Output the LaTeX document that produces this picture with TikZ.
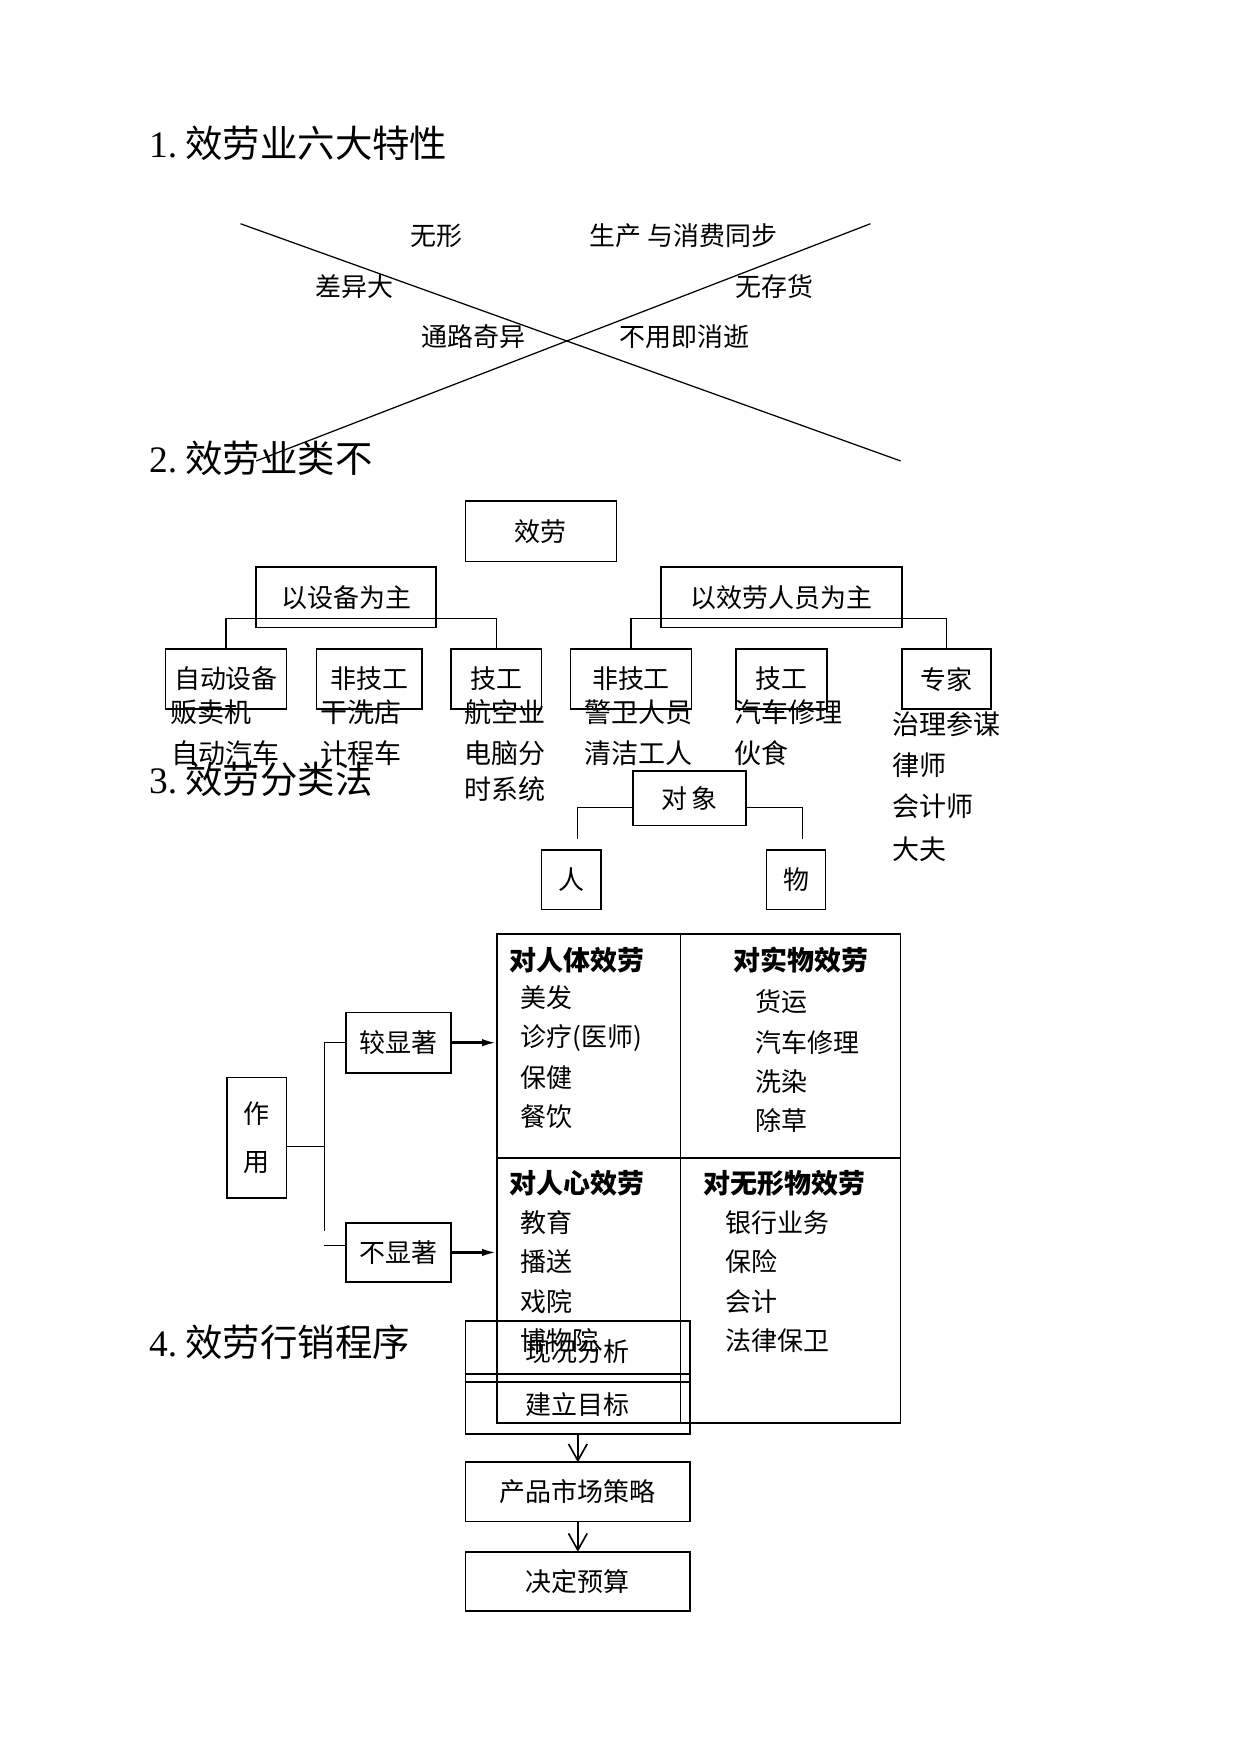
\documentclass[tikz,border=0pt]{standalone}
\usepackage{fontspec}
\setmainfont{Liberation Serif}
\newfontfamily\cjk{Noto Sans CJK SC}
\usetikzlibrary{arrows.meta}
\newcommand\pxu{0.5384pt}

\tikzset{
  heading/.style={anchor=west, inner sep=0pt, font=\fontsize{18}{20}\selectfont},
  lbl/.style={inner sep=0pt, font=\cjk\fontsize{12.5}{15}\selectfont},
  item/.style={anchor=west, inner sep=0pt, font=\cjk\fontsize{12.5}{15}\selectfont},
  listitem/.style={anchor=west, inner sep=0pt, font=\cjk\fontsize{13}{15}\selectfont},
  cellhead/.style={anchor=west, inner sep=0pt, font=\cjk\bfseries\fontsize{13}{15}\selectfont},
  box/.style 2 args={draw, line width=0.8pt, inner sep=0pt, outer sep=0pt,
    minimum width=#1*\pxu, minimum height=#2*\pxu, font=\cjk\fontsize{12.5}{15}\selectfont},
  link/.style={line width=0.6pt},
  pointer/.style={line width=1.2pt, -{Latex[length=7pt,width=3.5pt]}},
  flow/.style={line width=0.8pt, -{Straight Barb[length=8pt,width=9pt]}},
}

\begin{document}
\begin{tikzpicture}[x=\pxu, y=-\pxu]
  \useasboundingbox (0,0) rectangle (1109.5,1567.8);

  % 1. six features
  \node[heading] (title1) at (133,128) {1.\hspace{4pt}{\cjk 效劳业六大特性}};
  \draw[link] (215,200) -- (805,412);
  \draw[link] (778,200) -- (229,412);
  \node[lbl] (feat1) at (390,211) {无形};
  \node[lbl] (feat2) at (611,211) {生产\ 与消费同步};
  \node[lbl] (feat3) at (317,256) {差异大};
  \node[lbl] (feat4) at (692,256) {无存货};
  \node[lbl] (feat5) at (423,301) {通路奇异};
  \node[lbl] (feat6) at (612,301) {不用即消逝};

  % 2. kinds of service
  \node[heading] (title2) at (133,410) {2.\hspace{4pt}{\cjk 效劳业类不}};
  \node[box={135}{54}] (service) at (483.5,475) {效劳};
  \node[box={161}{54}] (equip) at (309.5,534) {以设备为主};
  \node[box={215}{54}] (staff) at (698.5,534) {以效劳人员为主};

  \node[box={108}{54}] (auto) at (202,607) {自动设备};
  \node[box={94}{54}] (unskilledA) at (330,607) {非技工};
  \node[box={81}{54}] (skilledA) at (443.5,607) {技工};
  \node[box={108}{54}] (unskilledB) at (564,607) {非技工};
  \node[box={81}{54}] (skilledB) at (698.5,607) {技工};
  \node[box={80}{54}] (expert) at (846,607) {专家};

  \draw[link] (auto.north) -- ++(0,-27) -| (skilledA.north);
  \draw[link] (unskilledB.north) -- ++(0,-27) -| (expert.north);

  \node[listitem] (vend) at (152,637) {贩卖机};
  \node[listitem] (autocar) at (153,673) {自动汽车};
  \node[listitem] (laundry) at (286,637) {干洗店};
  \node[listitem] (taxi) at (286,673) {计程车};
  \node[listitem] (airline) at (415,637) {航空业};
  \node[listitem] (computer) at (415,673) {电脑分};
  \node[listitem] (timeshare) at (415,705) {时系统};
  \node[listitem] (guard) at (522,637) {警卫人员};
  \node[listitem] (cleaner) at (522,673) {清洁工人};
  \node[listitem] (repair) at (656,637) {汽车修理};
  \node[listitem] (catering) at (656,673) {伙食};
  \node[listitem] (advisor) at (797,647) {治理参谋};
  \node[listitem] (lawyer) at (797,684) {律师};
  \node[listitem] (accountant) at (797,721) {会计师};
  \node[listitem] (doctor) at (797,759) {大夫};

  % 3. classification
  \node[heading] (title3) at (133,697) {3.\hspace{4pt}{\cjk 效劳分类法}};
  \node[box={101}{49}] (object) at (616.5,713.5) {对\,象};
  \node[box={53}{53}] (person) at (510.5,786.5) {人};
  \node[box={53}{53}] (thing) at (711.5,786.5) {物};
  \coordinate (objL) at (516.5,750);
  \coordinate (objR) at (717.5,750);
  \draw[link] ([yshift=-8.5*\pxu]object.west) -| (objL);
  \draw[link] ([yshift=-8.5*\pxu]object.east) -| (objR);

  \node[box={361}{437}] (grid) at (624.5,1053.5) {};
  \draw[link] (608,835) -- (608,1272);
  \draw[link] (444,1035) -- (805,1035);
  \draw[line width=1.2pt] (grid.south west) -- (grid.south east);

  \node[cellhead] (bodyhead) at (455,858) {对人体效劳};
  \node[item] (hair) at (465,892) {美发};
  \node[item] (clinic) at (465,928) {诊疗(医师)};
  \node[item] (health) at (465,963) {保健};
  \node[item] (meal) at (465,998) {餐饮};

  \node[cellhead] (goodshead) at (655,858) {对实物效劳};
  \node[item] (freight) at (675,895) {货运};
  \node[item] (carfix) at (675,932) {汽车修理};
  \node[item] (dye) at (675,967) {洗染};
  \node[item] (weed) at (675,1002) {除草};

  \node[cellhead] (mindhead) at (455,1058) {对人心效劳};
  \node[item] (school) at (465,1093) {教育};
  \node[item] (radio) at (465,1128) {播送};
  \node[item] (theatre) at (465,1163) {戏院};
  \node[item] (museum) at (465,1198) {博物院};

  \node[cellhead] (intanghead) at (628,1058) {对无形物效劳};
  \node[item] (bank) at (648,1093) {银行业务};
  \node[item] (insure) at (648,1128) {保险};
  \node[item] (account) at (648,1163) {会计};
  \node[item] (legal) at (648,1198) {法律保卫};

  \node[box={53}{108}, align=center, font=\cjk\fontsize{12.5}{22.7}\selectfont] (effect) at (229.5,1017) {作\\用};
  \node[box={94}{54}] (strong) at (356,932) {较显著};
  \node[box={94}{53}] (weak) at (356,1119.5) {不显著};
  \coordinate (forkEnd) at (290,1100);
  \draw[link] (strong.west) -| (forkEnd);
  \draw[link] ([yshift=-8*\pxu]effect.east) -- ++(34,0);
  \draw[link] ([yshift=6.5*\pxu]weak.west) -- ++(-19,0);
  \draw[pointer] (strong.east) -- (strong.east -| grid.west);
  \draw[pointer] (weak.east) -- (weak.east -| grid.west);

  % 4. marketing steps
  \node[heading] (title4) at (133,1200) {4.\hspace{4pt}{\cjk 效劳行销程序}};
  \node[box={201}{54}] (analysis) at (516.5,1208) {现况分析};
  \node[box={201}{54}] (goal) at (516.5,1255) {建立目标};
  \node[box={201}{53}] (strategy) at (516.5,1333.5) {产品市场策略};
  \node[box={201}{53}] (budget) at (516.5,1413.5) {决定预算};
  \draw[flow] (goal.south) -- (strategy.north);
  \draw[flow] (strategy.south) -- (budget.north);
\end{tikzpicture}
\end{document}
